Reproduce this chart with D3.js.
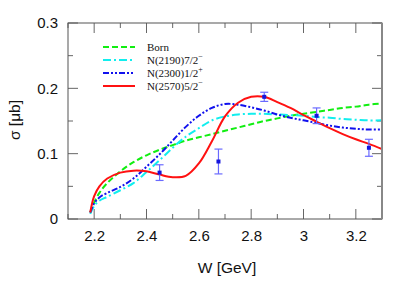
<!DOCTYPE html>
<html>
<head>
<meta charset="utf-8">
<script src="https://cdn.jsdelivr.net/npm/d3@7"></script>
<style>
  body { margin: 0; background: #fff; }
  svg { display: block; }
</style>
</head>
<body>
<svg id="chart" width="415" height="290"></svg>
<script>
// energy grid shared by all model curves
let wGrid = [2.185, 2.2, 2.22, 2.25, 2.3, 2.35, 2.4, 2.45, 2.5, 2.55, 2.6, 2.65, 2.7,
             2.75, 2.8, 2.85, 2.9, 2.95, 3.0, 3.05, 3.1, 3.15, 3.2, 3.25, 3.3];

let bornVals = [0.010, 0.025, 0.040, 0.055, 0.073, 0.087, 0.0975, 0.106, 0.113, 0.120, 0.125, 0.130, 0.135,
                0.140, 0.145, 0.150, 0.154, 0.158, 0.161, 0.164, 0.167, 0.170, 0.172, 0.175, 0.177];
let n2190Vals = [0.008, 0.020, 0.028, 0.034, 0.044, 0.055, 0.072, 0.090, 0.109, 0.126, 0.139, 0.151, 0.157,
                 0.160, 0.161, 0.161, 0.160, 0.159, 0.158, 0.156, 0.155, 0.153, 0.152, 0.151, 0.151];
let n2300Vals = [0.010, 0.024, 0.033, 0.040, 0.049, 0.062, 0.080, 0.099, 0.120, 0.141, 0.158, 0.170, 0.176,
                 0.175, 0.171, 0.166, 0.160, 0.155, 0.151, 0.147, 0.143, 0.140, 0.138, 0.137, 0.137];
let n2570Vals = [0.010, 0.035, 0.050, 0.062, 0.071, 0.074, 0.073, 0.068, 0.064, 0.066, 0.085, 0.119, 0.157,
                 0.178, 0.187, 0.187, 0.179, 0.170, 0.159, 0.149, 0.139, 0.130, 0.122, 0.115, 0.107];

// experimental points
let dataW = [2.45, 2.675, 2.85, 3.05, 3.25];
let dataSigma = [0.071, 0.088, 0.187, 0.158, 0.109];
let dataErr = [0.012, 0.019, 0.007, 0.012, 0.013];

let xTicks = [2.2, 2.4, 2.6, 2.8, 3, 3.2];
let yTicks = [0, 0.1, 0.2, 0.3];

let series = [
  { name: "Born", sup: "", vals: bornVals, color: "#11ee11", dash: "6,3" },
  { name: "N(2190)7/2", sup: "\u2212", vals: n2190Vals, color: "#11eeee", dash: "8,3,2,3" },
  { name: "N(2300)1/2", sup: "+", vals: n2300Vals, color: "#1111ee", dash: "6,2,2,2,2,2" },
  { name: "N(2570)5/2", sup: "\u2212", vals: n2570Vals, color: "#ff1111", dash: null }
];

let margin = { left: 68, top: 23, right: 33, bottom: 71 };
let svg = d3.select("#chart");
let width = 415 - margin.left - margin.right;
let height = 290 - margin.top - margin.bottom;

let x = d3.scaleLinear().domain([2.1, 3.3]).range([0, width]);
let y = d3.scaleLinear().domain([0, 0.3]).range([height, 0]);

let g = svg.append("g").attr("transform", `translate(${margin.left},${margin.top})`);

let fmt = d => (d === 0 ? "0" : String(d));

// ticks on all four sides, pointing inwards
let xMinor = d3.range(2.1, 3.31, 0.1);
let yMinor = d3.range(0, 0.301, 0.05);
let isMajorX = v => xTicks.some(t => Math.abs(t - v) < 1e-6);
let isMajorY = v => yTicks.some(t => Math.abs(t - v) < 1e-6);

let tickG = g.append("g").attr("stroke", "#666").attr("stroke-width", 1);
xMinor.forEach(v => {
  let len = isMajorX(v) ? 10 : 5;
  tickG.append("line").attr("x1", x(v)).attr("x2", x(v)).attr("y1", height).attr("y2", height - len);
  tickG.append("line").attr("x1", x(v)).attr("x2", x(v)).attr("y1", 0).attr("y2", len);
});
yMinor.forEach(v => {
  let len = isMajorY(v) ? 10 : 5;
  tickG.append("line").attr("x1", 0).attr("x2", len).attr("y1", y(v)).attr("y2", y(v));
  tickG.append("line").attr("x1", width).attr("x2", width - len).attr("y1", y(v)).attr("y2", y(v));
});

// axes for the labels only
g.append("g")
  .attr("transform", `translate(0,${height})`)
  .call(d3.axisBottom(x).tickValues(xTicks).tickSize(0).tickPadding(11).tickFormat(fmt))
  .call(a => a.select(".domain").remove())
  .selectAll("text")
  .attr("font-family", "Liberation Sans, Arial, sans-serif")
  .attr("font-size", 15)
  .attr("fill", "#111");

g.append("g")
  .call(d3.axisLeft(y).tickValues(yTicks).tickSize(0).tickPadding(10).tickFormat(fmt))
  .call(a => a.select(".domain").remove())
  .selectAll("text")
  .attr("font-family", "Liberation Sans, Arial, sans-serif")
  .attr("font-size", 15)
  .attr("fill", "#111");

// model curves
let line = d3.line()
  .x((d, i) => x(wGrid[i]))
  .y(d => y(d))
  .curve(d3.curveCatmullRom.alpha(0.5));

let clip = g.append("clipPath").attr("id", "clip")
  .append("rect").attr("width", width).attr("height", height);

series.forEach(s => {
  g.append("path")
    .attr("clip-path", "url(#clip)")
    .attr("d", line(s.vals))
    .attr("fill", "none")
    .attr("stroke", s.color)
    .attr("stroke-width", 2)
    .attr("stroke-dasharray", s.dash);
});

// data with error bars
let pts = g.append("g");
dataW.forEach((w, i) => {
  let cx = x(w);
  let top = y(dataSigma[i] + dataErr[i]);
  let bot = y(dataSigma[i] - dataErr[i]);
  pts.append("line").attr("x1", cx).attr("x2", cx).attr("y1", top).attr("y2", bot)
    .attr("stroke", "#6a6aff").attr("stroke-width", 1.2);
  [top, bot].forEach(yy => {
    pts.append("line").attr("x1", cx - 4).attr("x2", cx + 4).attr("y1", yy).attr("y2", yy)
      .attr("stroke", "#6a6aff").attr("stroke-width", 1.2);
  });
  pts.append("rect").attr("x", cx - 2).attr("y", y(dataSigma[i]) - 2)
    .attr("width", 4).attr("height", 4).attr("fill", "#1515dd");
});

// frame
g.append("rect")
  .attr("width", width).attr("height", height)
  .attr("fill", "none").attr("stroke", "#555").attr("stroke-width", 1);
g.append("line").attr("x1", width).attr("x2", width).attr("y1", 0).attr("y2", height)
  .attr("stroke", "#888").attr("stroke-width", 2);

// legend
let leg = g.append("g").attr("transform", "translate(35,24)");
series.forEach((s, i) => {
  let row = leg.append("g").attr("transform", `translate(0,${i * 13})`);
  row.append("line").attr("x1", 0).attr("x2", 32).attr("y1", 0).attr("y2", 0)
    .attr("stroke", s.color).attr("stroke-width", 2).attr("stroke-dasharray", s.dash);
  let t = row.append("text").attr("x", 44).attr("y", 4)
    .attr("font-family", "Liberation Serif, Times New Roman, serif")
    .attr("font-size", 11).attr("fill", "#111")
    .text(s.name);
  if (s.sup) {
    t.append("tspan").attr("dy", -5).attr("font-size", 8).text(s.sup);
  }
});

// axis titles
svg.append("text")
  .attr("x", 227).attr("y", 273)
  .attr("text-anchor", "middle")
  .attr("font-family", "Liberation Sans, Arial, sans-serif")
  .attr("font-size", 15.5).attr("fill", "#111")
  .text("W [GeV]");

svg.append("text")
  .attr("transform", "translate(20,120) rotate(-90)")
  .attr("text-anchor", "middle")
  .attr("font-family", "Liberation Sans, Arial, sans-serif")
  .attr("font-size", 15.5).attr("fill", "#111")
  .text("\u03c3 [\u03bcb]");
</script>
</body>
</html>
